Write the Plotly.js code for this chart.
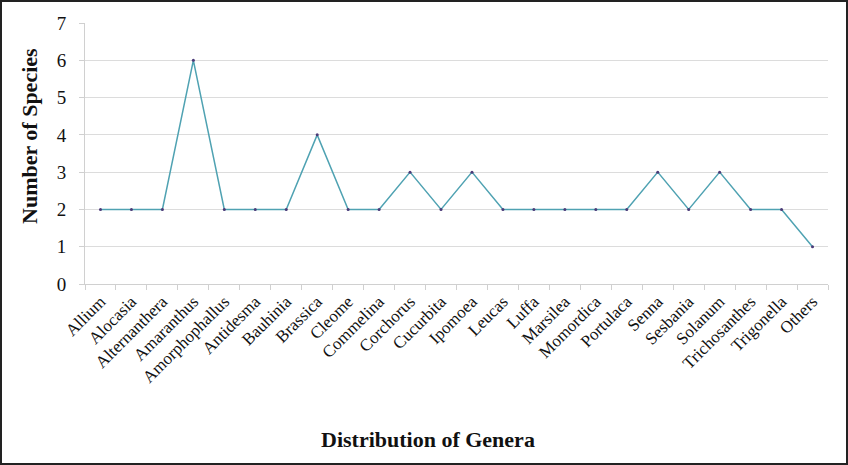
<!DOCTYPE html>
<html><head><meta charset="utf-8">
<script src="https://cdn.plot.ly/plotly-3.0.1.min.js"></script>
<style>
html,body{margin:0;padding:0;background:#fff;}
#wrap{position:absolute;left:0;top:0;width:848px;height:465px;box-sizing:border-box;border:2px solid #222;}
#chart{width:844px;height:461px;}
</style></head><body>
<div id="wrap"><div id="chart"></div></div>
<script>
const genera = ["Allium","Alocasia","Alternanthera","Amaranthus","Amorphophallus","Antidesma","Bauhinia","Brassica","Cleome","Commelina","Corchorus","Cucurbita","Ipomoea","Leucas","Luffa","Marsilea","Momordica","Portulaca","Senna","Sesbania","Solanum","Trichosanthes","Trigonella","Others"];
const species = [2,2,2,6,2,2,2,4,2,2,3,2,3,2,2,2,2,2,3,2,3,2,2,1];
const yTicks = [0,1,2,3,4,5,6,7];
const xTitle = "Distribution of Genera";
const yTitle = "Number of Species";

const serif = "Liberation Serif, Times New Roman, serif";
Plotly.newPlot("chart", [{
  type: "scatter", mode: "lines+markers",
  x: genera, y: species,
  line: {color: "#4fa2b2", width: 1.5},
  marker: {color: "#4b3a78", size: 3}
}], {
  width: 844, height: 461,
  margin: {l: 83, r: 18, t: 21, b: 179},
  paper_bgcolor: "#fff", plot_bgcolor: "#fff",
  showlegend: false,
  font: {family: serif, color: "#111"},
  xaxis: {
    type: "category", range: [-0.5, 23.5],
    tickangle: -45, tickfont: {size: 17, family: serif, color: "#111"},
    showgrid: false, showline: true, linecolor: "#d0d0d0", linewidth: 1,
    ticks: "outside", tickson: "boundaries", ticklen: 5, tickcolor: "#d0d0d0",
    automargin: false
  },
  yaxis: {
    range: [0, 7], tickvals: yTicks, ticktext: yTicks.map(String),
    tickfont: {size: 19, family: serif, color: "#111"},
    ticklabelstandoff: 9,
    showgrid: true, gridcolor: "#dcdcdc", gridwidth: 1,
    showline: true, linecolor: "#d0d0d0", linewidth: 1,
    ticks: "outside", ticklen: 5, tickcolor: "#d0d0d0",
    zeroline: false,
    automargin: false
  },
  annotations: [
    {text: "<b>" + xTitle + "</b>", xref: "paper", yref: "paper", x: 0.4616, y: -0.595,
     xanchor: "center", yanchor: "middle", showarrow: false,
     font: {size: 22, family: serif, color: "#111"}},
    {text: "<b>" + yTitle + "</b>", xref: "paper", yref: "paper", x: -0.0754, y: 0.567,
     xanchor: "center", yanchor: "middle", showarrow: false, textangle: -90,
     font: {size: 22, family: serif, color: "#111"}}
  ]
}, {displayModeBar: false, staticPlot: true});
</script></body></html>
